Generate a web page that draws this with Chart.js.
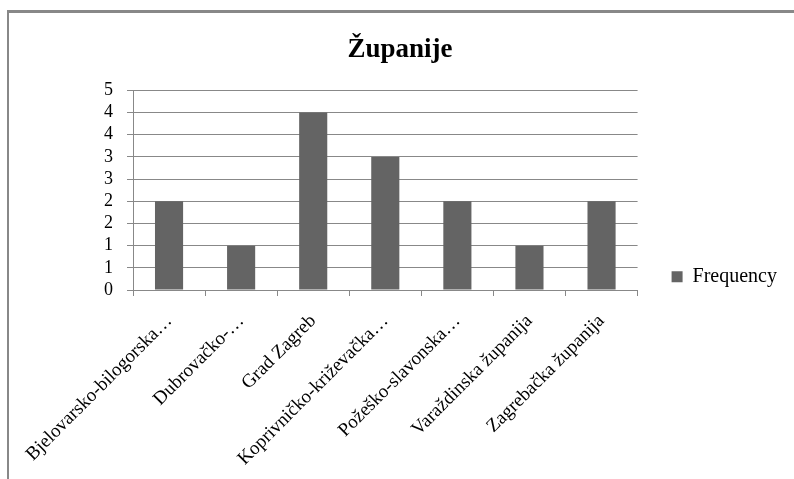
<!DOCTYPE html>
<html>
<head>
<meta charset="utf-8">
<script src="https://cdn.jsdelivr.net/npm/chart.js@4"></script>
<style>
  html, body { margin: 0; padding: 0; background: #fff; overflow: hidden; }
  #wrap { position: relative; width: 794px; height: 479px; }
  #frame { position: absolute; left: 7px; top: 10px; width: 800px; height: 480px;
           border-left: 2px solid #888; border-top: 3px solid #888; }
  canvas { position: absolute; left: 0; top: 0; }
</style>
</head>
<body>
<div id="wrap">
  <div id="frame"></div>
  <canvas id="chart" width="794" height="479"></canvas>
</div>
<script>
const categories = [
  "Bjelovarsko-bilogorska…",
  "Dubrovačko-…",
  "Grad Zagreb",
  "Koprivničko-križevačka…",
  "Požeško-slavonska…",
  "Varaždinska županija",
  "Zagrebačka županija"
];
const frequency = [2, 1, 4, 3, 2, 1, 2];
const yTickLabels = ["0", "1", "1", "2", "2", "3", "3", "4", "4", "5"];

const serif = "'Liberation Serif', 'Times New Roman', serif";
const barColor = "#646464";

const ctx = document.getElementById("chart").getContext("2d");
new Chart(ctx, {
  type: 'bar',
  data: {
    labels: categories,
    datasets: [{
      label: 'Frequency',
      data: frequency,
      backgroundColor: barColor,
      borderWidth: 0,
      barPercentage: 0.39,
      categoryPercentage: 1
    }]
  },
  options: {
    responsive: false,
    animation: false,
    layout: { padding: { left: 13, right: 7, top: 12, bottom: 0 } },
    plugins: {
      title: {
        display: true,
        text: 'Županije',
        color: '#000',
        font: { family: serif, size: 27, weight: 'bold' },
        padding: { top: 22, bottom: 24 }
      },
      legend: {
        position: 'right',
        // empty legend title only pushes the entry down
        title: { display: true, text: '', padding: { top: 24, bottom: 24 } },
        labels: {
          color: '#000',
          font: { family: serif, size: 20 },
          boxWidth: 11,
          boxHeight: 11,
          padding: 10
        }
      },
      tooltip: { enabled: false }
    },
    scales: {
      x: {
        grid: { display: true, drawOnChartArea: false, color: '#888', tickLength: 6 },
        border: { color: '#888' },
        ticks: {
          color: '#000',
          font: { family: serif, size: 19 },
          autoSkip: false,
          minRotation: 45,
          maxRotation: 45,
          padding: 14
        },
        afterFit: s => { s.paddingLeft = 0; s.paddingRight = 0; s.height = 189; }
      },
      y: {
        min: 0,
        max: 4.5,
        grid: { color: '#888', tickLength: 6 },
        border: { color: '#888' },
        ticks: {
          stepSize: 0.5,
          autoSkip: false,
          color: '#000',
          font: { family: serif, size: 18 },
          padding: 14,
          callback: (v, i) => yTickLabels[i]
        },
        afterFit: s => { s.width = 120; }
      },
      // empty spacer between plot and legend
      gap: {
        type: 'linear',
        position: 'right',
        grid: { display: false },
        border: { display: false },
        ticks: { display: false },
        afterFit: s => { s.width = 24; }
      }
    }
  }
});
</script>
</body>
</html>
